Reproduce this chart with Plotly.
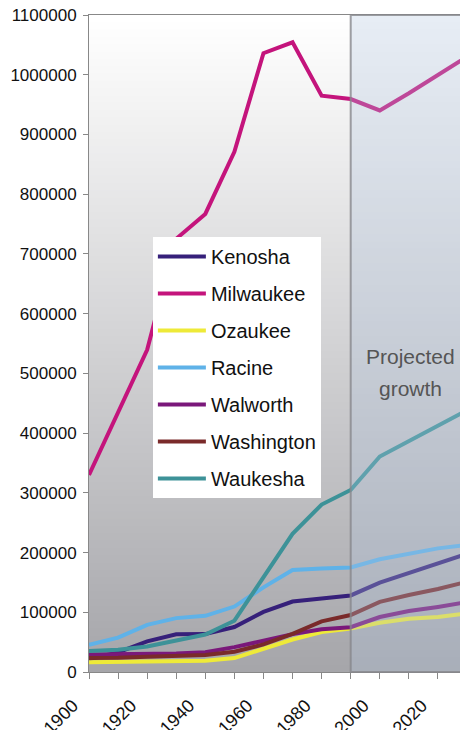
import plotly.graph_objects as go

years = [1900, 1910, 1920, 1930, 1940, 1950, 1960, 1970, 1980, 1990, 2000, 2010, 2020, 2030]

kenosha    = [21707, 32929, 51284, 63277, 63505, 75238, 100615, 117917, 123137, 128181, 149577, 166000, 182000, 198000]
milwaukee  = [330017, 433187, 539449, 725263, 766885, 871047, 1036041, 1054249, 964988, 959275, 940164, 969000, 1000000, 1030000]
ozaukee    = [16363, 17123, 16335, 17394, 18985, 23361, 38441, 54461, 66981, 72831, 82317, 89000, 92000, 98000]
racine     = [45644, 57424, 78961, 90217, 94047, 109585, 141781, 170838, 173132, 175034, 188831, 198000, 207000, 213000]
walworth   = [29259, 29614, 29327, 31058, 33103, 41584, 52368, 63444, 71507, 75000, 92013, 102000, 109000, 117000]
washington = [23589, 23784, 25713, 26551, 28430, 33902, 46119, 63839, 84848, 95328, 117493, 129000, 139000, 151000]
waukesha   = [35229, 37100, 42612, 52358, 62744, 85901, 158249, 231335, 280326, 304715, 360767, 386000, 412000, 438000]

series_names = ["Kenosha", "Milwaukee", "Ozaukee", "Racine", "Walworth", "Washington", "Waukesha"]
series_values = [kenosha, milwaukee, ozaukee, racine, walworth, washington, waukesha]
series_colors = ["#36207a", "#c4147c", "#eeea38", "#5fb2e8", "#7a187a", "#7a2a2a", "#3d9298"]

y_ticks = list(range(0, 1100001, 100000))
x_ticks = years
x_ticktext = [str(y) if (y - 1900) % 20 == 0 and y < 2030 else "" for y in years]

projected_start, projected_end = 1990, 2030
projected_lines = ["Projected", "growth"]

FONT = "Liberation Sans, Arial, sans-serif"

fig = go.Figure()
for name, vals, col in zip(series_names, series_values, series_colors):
    fig.add_trace(go.Scatter(x=years, y=vals, mode="lines", name=name, legendgroup=name,
                             line=dict(color=col, width=4)))

# background vertical gradient (white at top to grey at bottom)
shapes = []
N = 90
top = (255, 255, 255)
bot = (166, 166, 170)
for i in range(N):
    f0 = i / N
    f1 = (i + 1) / N
    fm = (f0 + f1) / 2
    c = tuple(int(round(bot[k] + (top[k] - bot[k]) * fm)) for k in range(3))
    shapes.append(dict(type="rect", xref="x domain", yref="y domain", x0=0, x1=1, y0=f0, y1=f1 + 0.002,
                       fillcolor="rgb(%d,%d,%d)" % c, line=dict(width=0), layer="below"))

# projected region overlay
shapes.append(dict(type="rect", xref="x", yref="y domain", x0=projected_start, x1=projected_end, y0=0, y1=1,
                   fillcolor="rgba(176,196,222,0.3)", line=dict(color="rgba(135,135,140,0.8)", width=2),
                   layer="above"))

annotations = []
for txt, yv in zip(projected_lines, [529000, 475000]):
    annotations.append(dict(x=(projected_start + projected_end) / 2 + 0.5, y=yv, xref="x", yref="y",
                            text=txt, showarrow=False,
                            font=dict(size=21, family=FONT, color="#555")))

# page body has an 8px margin: figure is sized/offset to compensate
fig.update_layout(
    width=460, height=722,
    margin=dict(l=81, r=1, t=7, b=58),
    paper_bgcolor="white", plot_bgcolor="white",
    font=dict(family=FONT, size=18, color="#111"),
    shapes=shapes,
    showlegend=True,
    legend=dict(x=0.169, y=0.662, xanchor="left", yanchor="top",
                bgcolor="white", borderwidth=0, font=dict(size=20, family=FONT, color="#111"),
                itemwidth=48, tracegroupgap=8, traceorder="grouped"),
    annotations=annotations,
)

fig.update_xaxes(range=[1900, 2030], tickvals=x_ticks, ticktext=x_ticktext, tickangle=-45,
                 showgrid=False, zeroline=False, showline=True, linecolor="#888", linewidth=1,
                 mirror=True, ticks="outside", ticklen=6, tickcolor="#888", automargin=False,
                 ticklabelshift=-16, ticklabelstandoff=9, ticklabeloverflow="allow",
                 tickfont=dict(size=18, family=FONT, color="#111"))
fig.update_yaxes(range=[0, 1100000], tickvals=y_ticks, ticktext=[str(v) for v in y_ticks],
                 showgrid=False, zeroline=False, showline=True, linecolor="#888", linewidth=1,
                 ticks="outside", ticklen=5, tickcolor="#888", automargin=False,
                 ticklabelstandoff=3, ticklabeloverflow="allow",
                 tickfont=dict(size=17, family=FONT, color="#111"))

fig.write_html("out.html")
